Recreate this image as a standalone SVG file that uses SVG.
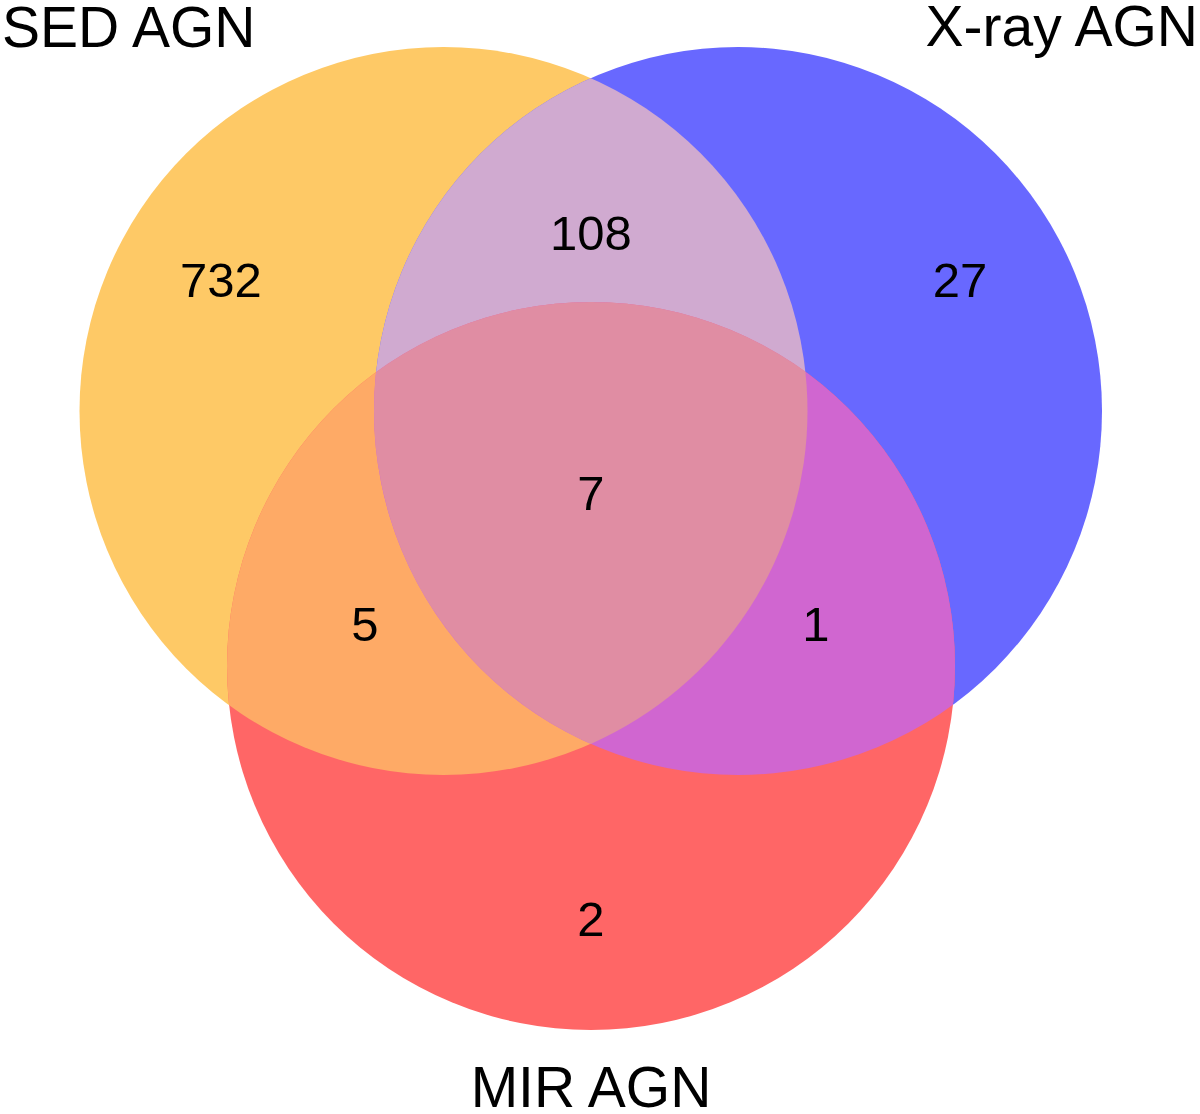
<svg xmlns="http://www.w3.org/2000/svg" width="1200" height="1114" viewBox="0 0 1200 1114">
<style>
.lbl{font-family:"Liberation Sans",Arial,sans-serif;font-size:57px;fill:#000}
.num{font-family:"Liberation Sans",Arial,sans-serif;font-size:49px;fill:#000;text-anchor:middle}
</style>
<defs>
<clipPath id="cSED"><circle cx="443.5" cy="411" r="364"/></clipPath>
<clipPath id="cX"><circle cx="738" cy="411" r="364"/></clipPath>
<clipPath id="cSEDX" clip-path="url(#cSED)"><circle cx="738" cy="411" r="364"/></clipPath>
</defs>
<rect width="1200" height="1114" fill="#fff"/>
<g id="regions">
<circle id="sed" cx="443.5" cy="411" r="364" fill="#FEC966"/>
<circle id="xray" cx="738" cy="411" r="364" fill="#6868FF"/>
<circle id="mir" cx="591" cy="666" r="364" fill="#FF6666"/>
<circle id="sed-xray" cx="738" cy="411" r="364" fill="#D0AAD0" clip-path="url(#cSED)"/>
<circle id="sed-mir" cx="591" cy="666" r="364" fill="#FEAA66" clip-path="url(#cSED)"/>
<circle id="xray-mir" cx="591" cy="666" r="364" fill="#D066D0" clip-path="url(#cX)"/>
<circle id="all" cx="591" cy="666" r="364" fill="#E08DA3" clip-path="url(#cSEDX)"/>
</g>
<g id="labels">
<text class="lbl" x="2" y="47">SED AGN</text>
<text class="lbl" x="1198" y="46" text-anchor="end">X-ray AGN</text>
<text class="lbl" x="591" y="1107" text-anchor="middle">MIR AGN</text>
</g>
<g id="counts">
<text class="num" x="221" y="297">732</text>
<text class="num" x="591" y="250">108</text>
<text class="num" x="960" y="297">27</text>
<text class="num" x="591" y="510">7</text>
<text class="num" x="365" y="641">5</text>
<text class="num" x="816" y="641">1</text>
<text class="num" x="591" y="936">2</text>
</g>
</svg>
